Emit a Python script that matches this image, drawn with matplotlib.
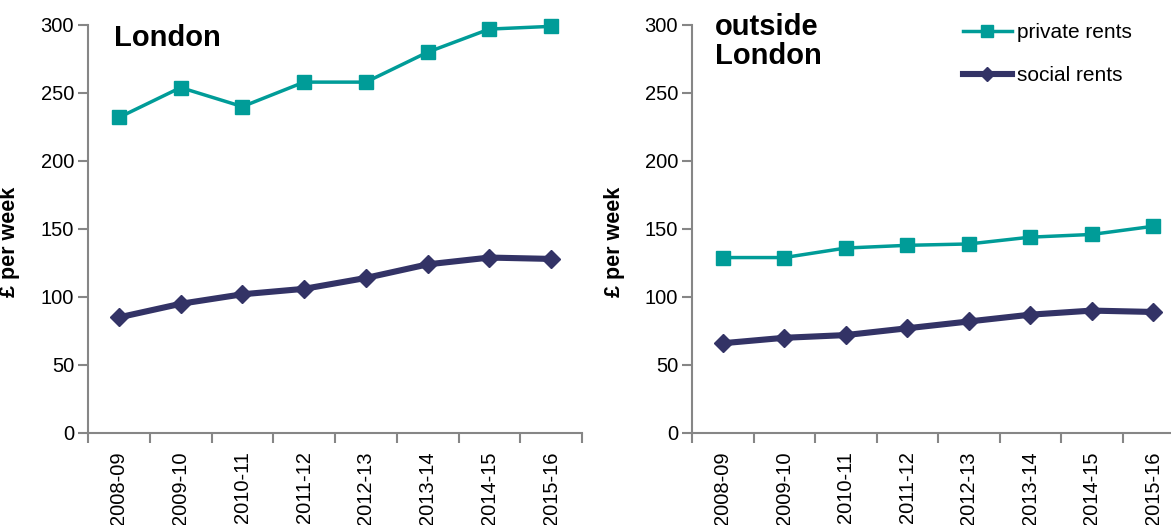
import matplotlib
matplotlib.use("Agg")
import matplotlib.pyplot as plt
import numpy as np

plt.rcParams['font.family'] = ['Liberation Sans', 'DejaVu Sans']

years = ["2008-09", "2009-10", "2010-11", "2011-12", "2012-13", "2013-14", "2014-15", "2015-16"]
london_private = [232, 254, 240, 258, 258, 280, 297, 299]
london_social = [85, 95, 102, 106, 114, 124, 129, 128]
outside_private = [129, 129, 136, 138, 139, 144, 146, 152]
outside_social = [66, 70, 72, 77, 82, 87, 90, 89]

teal = '#009C98'
navy = '#333366'
spine_col = '#868686'

fig = plt.figure(figsize=(11.71, 5.25), dpi=100)
ax1 = fig.add_axes([88/1171, 92/525, 494/1171, 408/525])
ax2 = fig.add_axes([692/1171, 92/525, 492/1171, 408/525])

def style(ax, priv, soc, title, tx, ty):
    x = np.arange(len(years))
    ax.plot(x, priv, color=teal, lw=2.5, marker='s', ms=9.8, mec=teal, mfc=teal,
            label='private rents', solid_joinstyle='round', clip_on=False)
    ax.plot(x, soc, color=navy, lw=4.4, marker='D', ms=8.8, mec=navy, mfc=navy,
            label='social rents', solid_joinstyle='round', clip_on=False)
    ax.set_xlim(-0.5, len(years) - 0.5)
    ax.set_ylim(0, 300)
    ax.set_yticks(np.arange(0, 301, 50))
    ax.set_xticks(np.arange(len(years) + 1) - 0.5)
    ax.set_xticklabels([])
    ax.set_xticks(x, minor=True)
    ax.set_xticklabels(years, minor=True, rotation=90, fontsize=14.5)
    ax.tick_params(axis='x', which='minor', length=0, pad=13)
    ax.tick_params(axis='x', which='major', length=7, width=1.5, color=spine_col, direction='out')
    ax.tick_params(axis='y', length=7, width=1.5, color=spine_col, direction='out', labelsize=14.5, pad=3)
    for s in ['top', 'right']:
        ax.spines[s].set_visible(False)
    for s in ['left', 'bottom']:
        ax.spines[s].set_color(spine_col)
        ax.spines[s].set_linewidth(1.5)
    ax.set_ylabel('£ per week', fontsize=15.5, fontweight='bold')
    ax.text(tx, ty, title, transform=fig.transFigure, fontsize=21, fontweight='bold',
            ha='left', va='top', linespacing=1.05)

style(ax1, london_private, london_social, 'London', 114/1171, 1 - 24/525)
style(ax2, outside_private, outside_social, 'outside\nLondon', 715/1171, 1 - 13/525)
ax1.yaxis.set_label_coords(-0.138, 0.468)
ax2.yaxis.set_label_coords(-0.136, 0.468)

ax2.legend(loc='upper left', bbox_to_anchor=(963/1171, 1 - 23/525), bbox_transform=fig.transFigure,
           frameon=False, fontsize=15, handlelength=2.35, handletextpad=0.25, labelspacing=1.15,
           borderpad=0, borderaxespad=0, numpoints=1, markerscale=0.85)

fig.savefig('out.png', dpi=100)
